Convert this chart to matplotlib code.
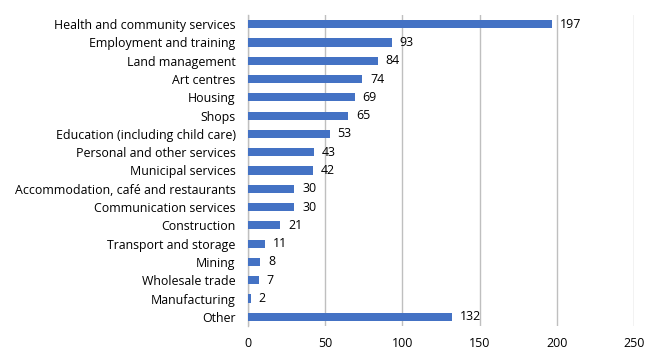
import matplotlib
matplotlib.use("Agg")
import matplotlib.pyplot as plt

categories = ["Health and community services", "Employment and training", "Land management",
              "Art centres", "Housing", "Shops", "Education (including child care)",
              "Personal and other services", "Municipal services",
              "Accommodation, café and restaurants", "Communication services", "Construction",
              "Transport and storage", "Mining", "Wholesale trade", "Manufacturing", "Other"]
values = [197, 93, 84, 74, 69, 65, 53, 43, 42, 30, 30, 21, 11, 8, 7, 2, 132]
xticks = [0, 50, 100, 150, 200, 250]

plt.rcParams['font.family'] = ['Open Sans', 'DejaVu Sans']
fs = 8.9

fig = plt.figure(figsize=(6.64, 3.63), dpi=100)
ax = fig.add_axes([248/664, 1 - 326/363, (634-248)/664, (326-15)/363])

ypos = list(range(len(categories)))
bars = ax.barh(ypos, values, height=0.45, color="#4472C4", zorder=3)
ax.set_ylim(len(categories) - 0.5, -0.5)
ax.set_xlim(0, 250)
ax.set_xticks(xticks)
ax.set_xticklabels([str(t) for t in xticks], fontsize=fs)
ax.set_yticks(ypos)
ax.set_yticklabels(categories, fontsize=fs)
ax.tick_params(length=0, pad=9)
ax.tick_params(axis='x', pad=8)
ax.grid(axis='x', color="#BFBFBF", linewidth=1, zorder=0)
for s in ["top", "right", "bottom"]:
    ax.spines[s].set_visible(False)
ax.spines["left"].set_color("#BFBFBF")
ax.spines["left"].set_linewidth(1)
for b, v in zip(bars, values):
    ax.text(b.get_width() + 5, b.get_y() + b.get_height()/2, str(v), va='center', ha='left', fontsize=fs)

fig.savefig("out.png", dpi=100)
